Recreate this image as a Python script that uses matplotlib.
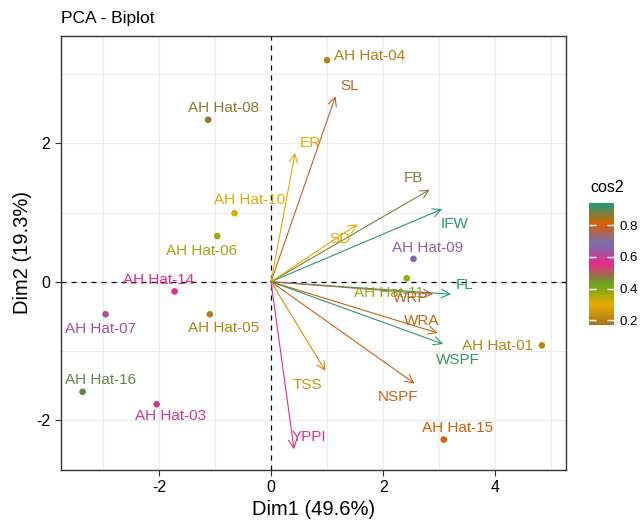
import matplotlib
matplotlib.use("Agg")
import matplotlib.pyplot as plt
import numpy as np
from matplotlib.colors import LinearSegmentedColormap, Normalize
from matplotlib.cm import ScalarMappable

plt.rcParams['font.family'] = ['Liberation Sans', 'DejaVu Sans']
plt.rcParams['axes.unicode_minus'] = False

# individuals
ind_names = ["AH Hat-01", "AH Hat-03", "AH Hat-04", "AH Hat-05", "AH Hat-06", "AH Hat-07", "AH Hat-08",
             "AH Hat-09", "AH Hat-10", "AH Hat-11", "AH Hat-14", "AH Hat-15", "AH Hat-16"]
ind_x = [4.83, -2.04, 1.00, -1.09, -0.96, -2.95, -1.12, 2.54, -0.65, 2.42, -1.72, 3.08, -3.36]
ind_y = [-0.92, -1.77, 3.20, -0.47, 0.66, -0.47, 2.34, 0.33, 0.99, 0.05, -0.14, -2.28, -1.59]
ind_cos2 = [0.21, 0.58, 0.20, 0.20, 0.37, 0.62, 0.86, 0.66, 0.30, 0.38, 0.56, 0.81, 0.89]

# variables
var_names = ["SL", "ER", "FB", "IFW", "SD", "FL", "WRP", "WRA", "WSPF", "NSPF", "TSS", "YPPI"]
var_x = [1.15, 0.43, 2.83, 3.05, 1.54, 3.21, 2.89, 2.97, 3.07, 2.56, 0.97, 0.41]
var_y = [2.68, 1.86, 1.33, 1.05, 0.83, -0.18, -0.18, -0.74, -0.90, -1.47, -1.29, -2.42]
var_cos2 = [0.78, 0.30, 0.87, 0.93, 0.30, 0.94, 0.77, 0.83, 0.92, 0.79, 0.24, 0.56]

# label nudges in pixels (repel-like placement)
ind_nudge = {"AH Hat-01": (-44, -1), "AH Hat-03": (14, -12), "AH Hat-04": (42, 4), "AH Hat-05": (14, -14),
             "AH Hat-06": (-16, -15), "AH Hat-07": (-5, -15), "AH Hat-08": (15, 12), "AH Hat-09": (14, 11),
             "AH Hat-10": (15, 13), "AH Hat-11": (-18, -15), "AH Hat-14": (-16, 11), "AH Hat-15": (14, 12),
             "AH Hat-16": (18, 12)}
var_nudge = {"SL": (14, 10), "ER": (15, 10), "FB": (-16, 12), "IFW": (13, -15), "SD": (-17, -15),
             "FL": (14, 9), "WRP": (-22, -4), "WRA": (-16, 12), "WSPF": (15, -16), "NSPF": (-17, -14),
             "TSS": (-18, -14), "YPPI": (15, 12)}

dark2 = ["#A6761D", "#E6AB02", "#66A61E", "#E7298A", "#7570B3", "#D95F02", "#1B9E77"]
cmap = LinearSegmentedColormap.from_list("cos2", dark2)
norm = Normalize(0.17, 0.94)

fig = plt.figure(figsize=(6.41, 5.21), dpi=100)
ax = fig.add_axes([60.7 / 641, 51 / 521, (566 - 60.7) / 641, (470 - 36) / 521])

ax.set_xlim(-3.75, 5.26)
ax.set_ylim(-2.72, 3.55)
ax.set_xticks([-2, 0, 2, 4])
ax.set_yticks([-2, 0, 2])
ax.set_xticks([-3, -1, 1, 3, 5], minor=True)
ax.set_yticks([-1, 1, 3], minor=True)
ax.grid(True, which="both", color="#EBEBEB", lw=0.8)
ax.set_axisbelow(True)
ax.tick_params(which="minor", length=0)
ax.tick_params(which="major", length=4, width=0.8, color="#333333", labelsize=11.5, labelcolor="black")
for s in ax.spines.values():
    s.set_color("#333333")
    s.set_linewidth(1.0)

ax.axhline(0, color="black", ls=(0, (4, 4)), lw=0.9, zorder=1)
ax.axvline(0, color="black", ls=(0, (4, 4)), lw=0.9, zorder=1)

# variable arrows
for name, x, y, c in zip(var_names, var_x, var_y, var_cos2):
    col = cmap(norm(c))
    ax.annotate("", xy=(x, y), xytext=(0, 0),
                arrowprops=dict(arrowstyle="->,head_length=0.6,head_width=0.3", color=col, lw=0.8,
                                shrinkA=0, shrinkB=0), zorder=2)
    ax.annotate(name, (x, y), xytext=var_nudge[name], textcoords="offset pixels",
                ha="center", va="center", fontsize=11, color=col, zorder=3)

# individuals
ax.scatter(ind_x, ind_y, c=ind_cos2, cmap=cmap, norm=norm, s=14, zorder=4)
for name, x, y, c in zip(ind_names, ind_x, ind_y, ind_cos2):
    ax.annotate(name, (x, y), xytext=ind_nudge[name], textcoords="offset pixels",
                ha="center", va="center", fontsize=11, color=cmap(norm(c)), zorder=3)

ax.set_xlabel("Dim1 (49.6%)", fontsize=14.5, labelpad=3)
ax.set_ylabel("Dim2 (19.3%)", fontsize=14.5, labelpad=3)
fig.text(61 / 641, 1 - 18 / 521, "PCA - Biplot", fontsize=12.5, ha="left", va="center")

# colorbar legend
cax = fig.add_axes([589 / 641, (521 - 325) / 521, 25 / 641, 122 / 521])
cb = fig.colorbar(ScalarMappable(norm=norm, cmap=cmap), cax=cax)
cb.outline.set_visible(False)
cb.set_ticks([0.2, 0.4, 0.6, 0.8])
cax.tick_params(left=True, right=True, labelleft=False, labelright=True, direction="in",
                color="white", length=5, width=1, labelsize=9.5, pad=4)
fig.text(590 / 641, 1 - 188 / 521, "cos2", fontsize=11.5, ha="left", va="center")

fig.savefig("out.png", dpi=100)
